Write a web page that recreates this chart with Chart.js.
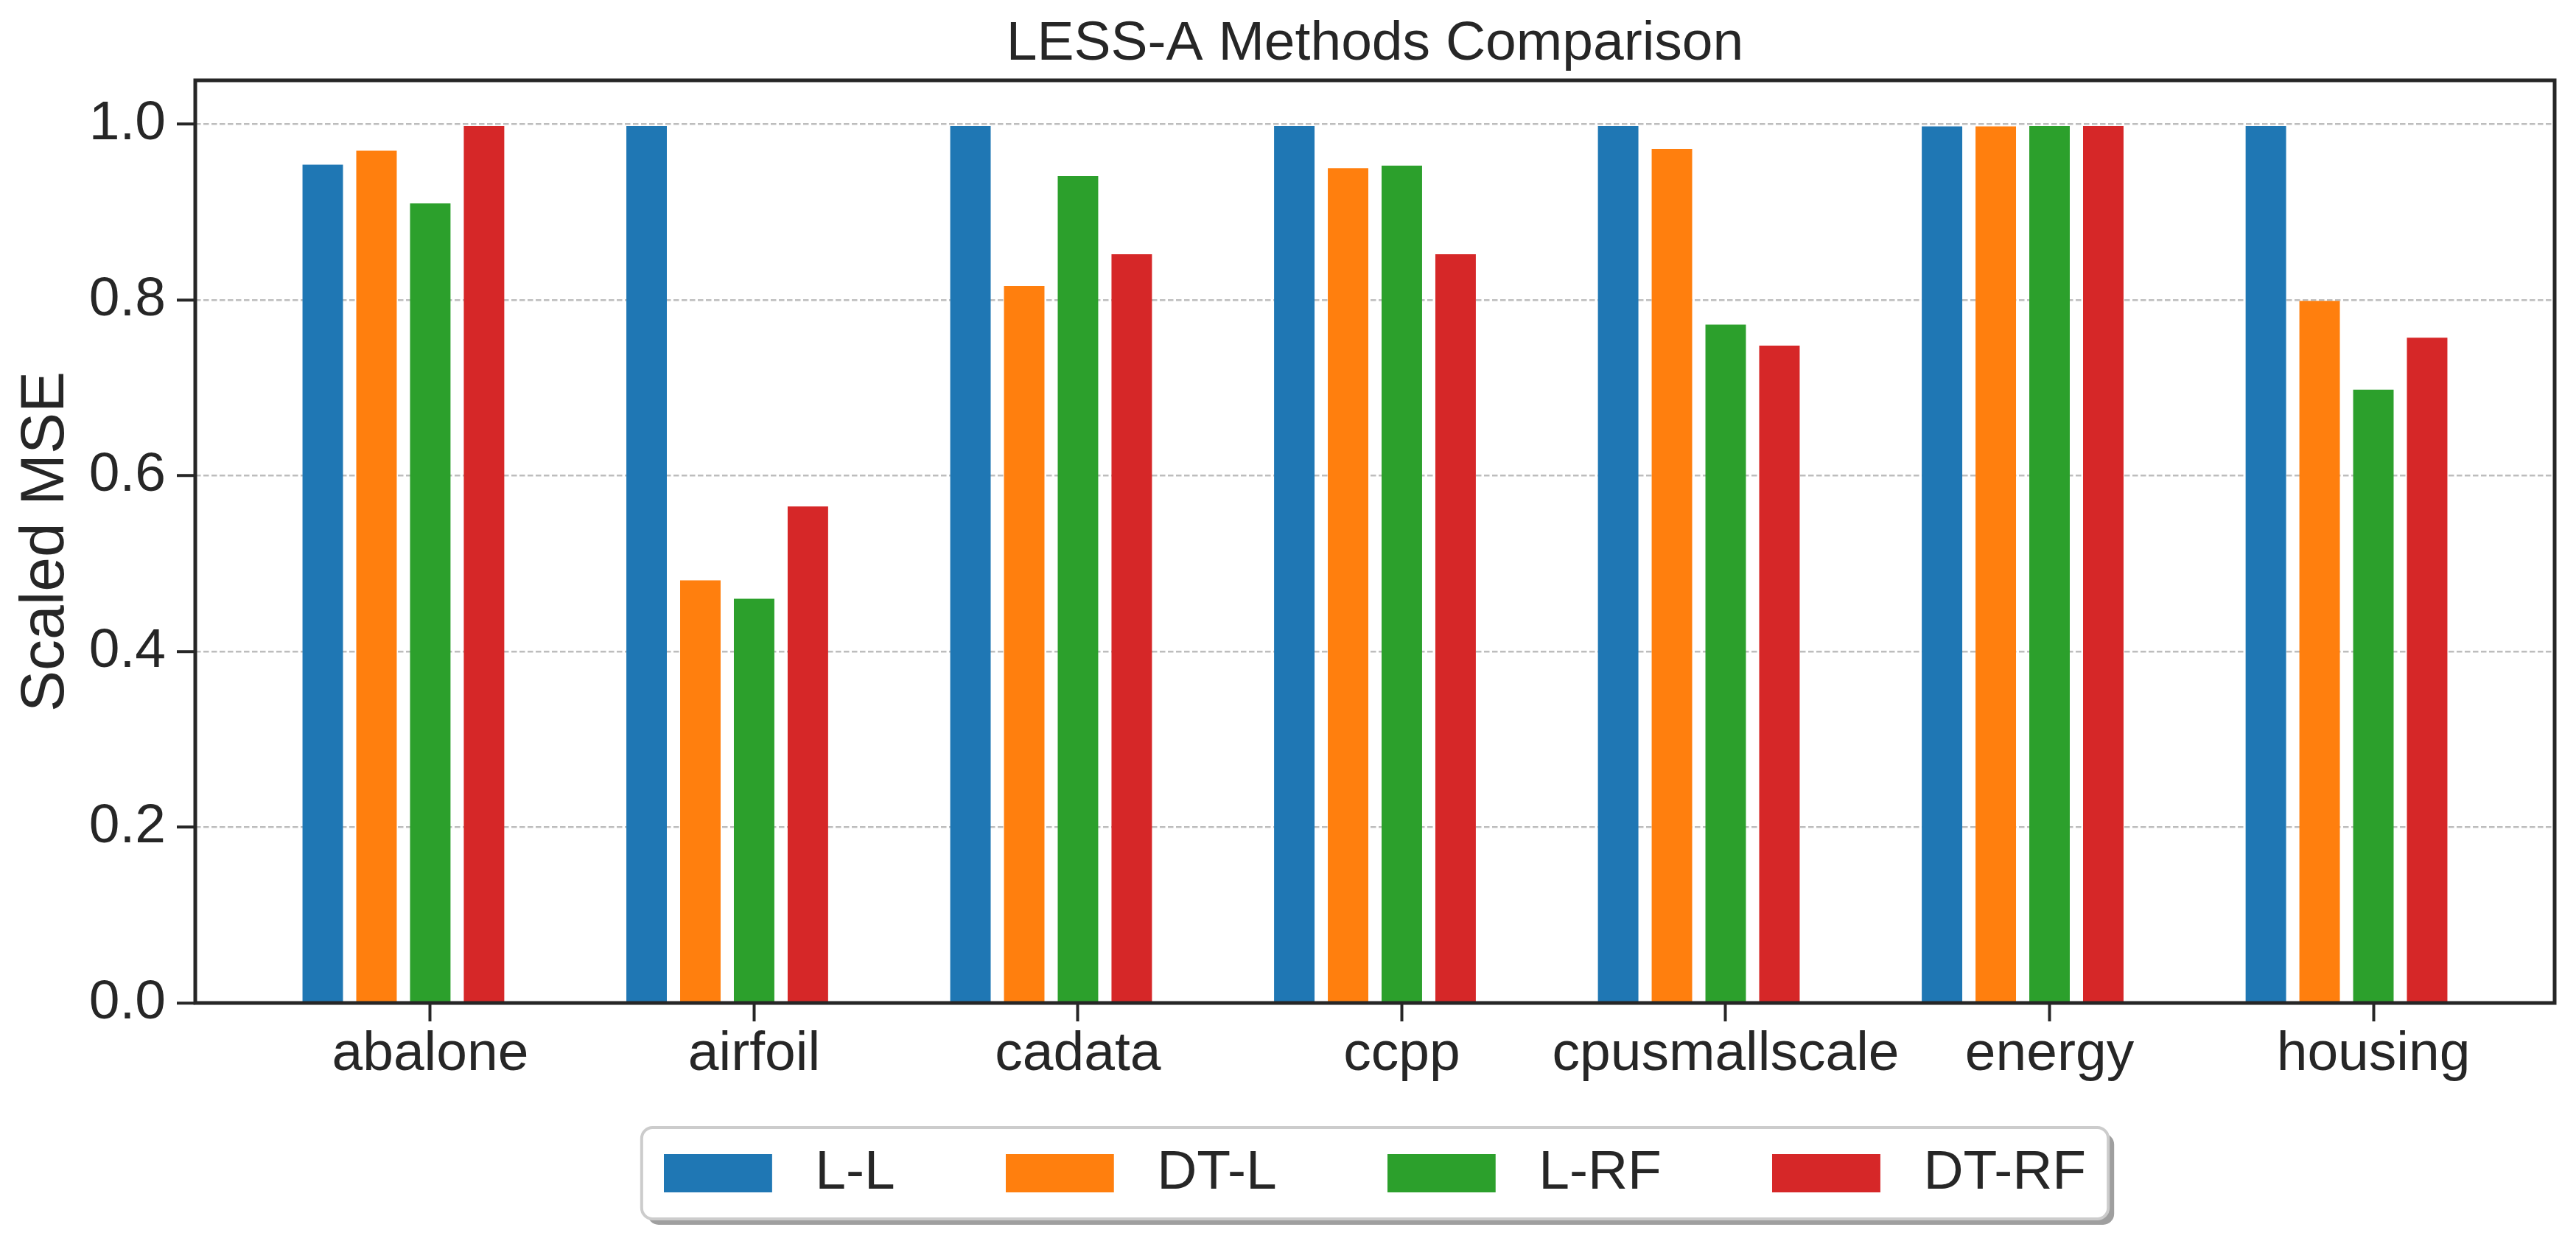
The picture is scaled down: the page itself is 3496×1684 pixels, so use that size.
<!DOCTYPE html>
<html>
<head>
<meta charset="utf-8">
<script src="https://cdn.jsdelivr.net/npm/chart.js@4.4.1/dist/chart.umd.min.js"></script>
<style>
html,body{margin:0;padding:0;background:#ffffff;overflow:hidden}
canvas{display:block}
</style>
</head>
<body>
<canvas id="c" width="3496" height="1684"></canvas>
<script>
// ---- data ----
const categories = ['abalone', 'airfoil', 'cadata', 'ccpp', 'cpusmallscale', 'energy', 'housing'];
const seriesNames = ['L-L', 'DT-L', 'L-RF', 'DT-RF'];
const valuesLL   = [0.954, 0.998, 0.998, 0.998, 0.998, 0.9975, 0.998];
const valuesDTL  = [0.970, 0.481, 0.816, 0.950, 0.972, 0.9975, 0.799];
const valuesLRF  = [0.910, 0.460, 0.941, 0.953, 0.772, 0.998, 0.698];
const valuesDTRF = [0.998, 0.565, 0.852, 0.852, 0.748, 0.998, 0.757];
const yTickValues = [0.0, 0.2, 0.4, 0.6, 0.8, 1.0];
const titleText = 'LESS-A Methods Comparison';
const yLabelText = 'Scaled MSE';

// ---- styles ----
const seriesColors = ['#1f77b4', '#ff7f0e', '#2ca02c', '#d62728'];
const TEXT = '#262626';
const FONT = "'Liberation Sans', Arial, sans-serif";
const STEP = 0.166;      // distance between bars of one group (axis units)
const BAR_W = 0.125;     // bar width (axis units)
const SLOT_OFFSETS = [-2, -1, 0, 1];

const allValues = [valuesLL, valuesDTL, valuesLRF, valuesDTRF];

// x limits like matplotlib (5% margins around the bars)
const dataMin = SLOT_OFFSETS[0] * STEP - BAR_W / 2;
const dataMax = (categories.length - 1) + SLOT_OFFSETS[3] * STEP + BAR_W / 2;
const margin = 0.05 * (dataMax - dataMin);
const xMin = dataMin - margin;
const xMax = dataMax + margin;

// legend swatches (colored rect + transparent gap for handle/text spacing)
const SW_W = 147, SW_GAP = 21, SW_H = 52;
const swatches = seriesColors.map(col => {
  const cv = document.createElement('canvas');
  cv.width = SW_W + SW_GAP; cv.height = SW_H;
  const g = cv.getContext('2d');
  g.fillStyle = col; g.fillRect(0, 0, SW_W, SW_H);
  return cv;
});

const datasets = seriesNames.map((name, s) => ({
  label: name,
  data: allValues[s].map((v, i) => ({ x: i + SLOT_OFFSETS[s] * STEP, y: v })),
  backgroundColor: seriesColors[s],
  borderWidth: 0,
  grouped: false,
  categoryPercentage: 1.0,
  barPercentage: BAR_W / STEP
}));

function roundRectPath(ctx, x, y, w, h, r) {
  ctx.beginPath();
  ctx.moveTo(x + r, y);
  ctx.lineTo(x + w - r, y);
  ctx.arcTo(x + w, y, x + w, y + r, r);
  ctx.lineTo(x + w, y + h - r);
  ctx.arcTo(x + w, y + h, x + w - r, y + h, r);
  ctx.lineTo(x + r, y + h);
  ctx.arcTo(x, y + h, x, y + h - r, r);
  ctx.lineTo(x, y + r);
  ctx.arcTo(x, y, x + r, y, r);
  ctx.closePath();
}

const framePlugin = {
  id: 'frames',
  beforeDraw(chart) {
    // let the x tick labels extend below the (short) x-axis box
    if (chart.scales.x) chart.scales.x._computeLabelArea = () => undefined;
    const ctx = chart.ctx;
    ctx.save();
    ctx.fillStyle = '#ffffff';
    ctx.fillRect(0, 0, chart.width, chart.height);
    const hb = chart.legend && chart.legend.legendHitBoxes;
    if (hb && hb.length) {
      const first = hb[0], last = hb[hb.length - 1];
      const cy = first.top + first.height / 2;
      const left = first.left - 30;
      const right = last.left + last.width + 30;
      const top = cy - 62;
      const h = 124;
      // shadow
      ctx.fillStyle = 'rgba(80,80,80,0.55)';
      roundRectPath(ctx, left + 8, top + 8, right - left, h, 15);
      ctx.fill();
      // frame
      ctx.fillStyle = '#ffffff';
      roundRectPath(ctx, left, top, right - left, h, 15);
      ctx.fill();
      ctx.lineWidth = 4;
      ctx.strokeStyle = '#cccccc';
      ctx.stroke();
    }
    ctx.restore();
  },
  afterDatasetsDraw(chart) {
    const a = chart.chartArea;
    const ctx = chart.ctx;
    ctx.save();
    ctx.lineWidth = 5;
    ctx.strokeStyle = TEXT;
    ctx.strokeRect(a.left, a.top, a.right - a.left, a.bottom - a.top);
    ctx.restore();
  }
};

new Chart(document.getElementById('c'), {
  type: 'bar',
  data: { datasets },
  plugins: [framePlugin],
  options: {
    responsive: false,
    animation: false,
    devicePixelRatio: 1,
    layout: { padding: { left: 0, right: 29, top: 0, bottom: 44.5 } },
    plugins: {
      tooltip: { enabled: false },
      title: {
        display: true, text: titleText, fullSize: false, color: TEXT,
        font: { family: FONT, size: 75, weight: 'normal', lineHeight: 1.2 },
        padding: { top: 15, bottom: 4 }
      },
      legend: {
        display: true, position: 'bottom', align: 'center', fullSize: false,
        labels: {
          usePointStyle: true,
          pointStyleWidth: SW_W + SW_GAP,
          boxHeight: SW_H,
          padding: 150,
          color: TEXT,
          font: { family: FONT, size: 75 },
          generateLabels: (chart) => chart.data.datasets.map((ds, i) => ({
            text: ds.label,
            fillStyle: ds.backgroundColor,
            strokeStyle: ds.backgroundColor,
            lineWidth: 0,
            pointStyle: swatches[i],
            hidden: !chart.isDatasetVisible(i),
            datasetIndex: i,
            fontColor: TEXT
          }))
        }
      }
    },
    scales: {
      x: {
        type: 'linear',
        offset: false,
        min: xMin, max: xMax,
        afterBuildTicks: (s) => { s.ticks = categories.map((c, i) => ({ value: i })); },
        afterFit: (s) => { s.height = 43.5; },
        ticks: {
          autoSkip: false, maxRotation: 0, minRotation: 0, padding: 0,
          color: TEXT, font: { family: FONT, size: 75 },
          callback: (v) => categories[Math.round(v)]
        },
        grid: { offset: false, drawOnChartArea: false, drawTicks: true, tickLength: 25, tickWidth: 4, tickColor: TEXT },
        border: { display: false }
      },
      y: {
        type: 'linear',
        min: 0, max: 1.05,
        afterBuildTicks: (s) => { s.ticks = yTickValues.map(v => ({ value: v })); },
        afterFit: (s) => { s.width = 265; },
        ticks: {
          padding: 15, color: TEXT, font: { family: FONT, size: 75 },
          callback: (v) => Number(v).toFixed(1)
        },
        grid: { color: '#bdbdbd', lineWidth: 2.5, drawTicks: true, tickLength: 25, tickWidth: 4, tickColor: TEXT },
        border: { display: false, dash: [7.5, 3.5] },
        title: {
          display: true, text: yLabelText, color: TEXT,
          font: { family: FONT, size: 84, weight: 'normal', lineHeight: 1.2 },
          padding: { top: 12, bottom: 0 }
        }
      }
    }
  }
});
</script>
</body>
</html>
